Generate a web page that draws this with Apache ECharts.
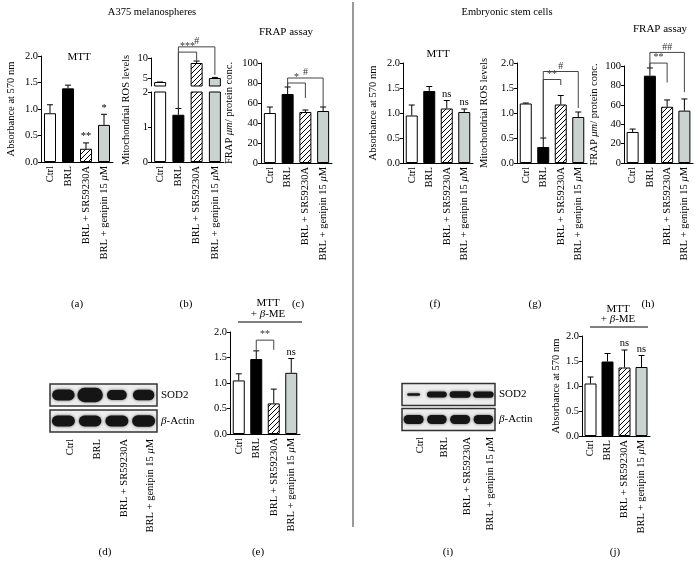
<!DOCTYPE html>
<html><head><meta charset="utf-8">
<script src="https://cdn.jsdelivr.net/npm/echarts@6/dist/echarts.min.js"></script>
<style>html,body{margin:0;padding:0;background:#fff}#c{width:695px;height:564px}</style>
</head><body><div id="c"></div>
<script>
const FONT = 'Liberation Serif';
const categories = ['Ctrl', 'BRL', 'BRL + SR59230A', 'BRL + genipin 15 μM'];

// (a) A375 MTT
const mttA = [0.92, 1.39, 0.25, 0.70];
const mttAErr = [0.16, 0.06, 0.11, 0.20];
const mttASig = ['', '', '**', '*'];
// (b) A375 mitochondrial ROS (broken axis)
const rosB = [4.0, 1.35, 8.75, 5.0];
const rosBErr = [0.0, 0.18, 0.5, 0.15];
const bracketsB = [[1, 2, 3.14, '***', 2.91], [1, 3, 3.29, '#', 2.49]];
// (c) A375 FRAP
const frapC = [50, 69, 51, 52];
const frapCErr = [6, 7, 2, 4];
const bracketsC = [[1, 2, 80, '*', 65], [1, 3, 85, '#', 56]];
// (f) ESC MTT
const mttF = [0.95, 1.44, 1.09, 1.02];
const mttFErr = [0.21, 0.09, 0.16, 0.06];
const mttFSig = ['', '', 'ns', 'ns'];
// (g) ESC ROS
const rosG = [1.19, 0.32, 1.17, 0.92];
const rosGErr = [0.01, 0.18, 0.18, 0.10];
const bracketsG = [[1, 2, 1.67, '**', 1.56], [1, 3, 1.83, '#', 1.10]];
// (h) ESC FRAP
const frapH = [32, 90, 58, 54];
const frapHErr = [3, 8, 7, 12];
const bracketsH = [[1, 2, 103, '**', 83], [1, 3, 114, '##', 73]];
// (e) A375 MTT + beta-ME
const mttE = [1.05, 1.47, 0.60, 1.20];
const mttEErr = [0.13, 0.16, 0.28, 0.28];
const mttESig = ['', '', '', 'ns'];
const bracketsE = [[1, 2, 1.84, '**', 1.65]];
// (j) ESC MTT + beta-ME
const mttJ = [1.05, 1.49, 1.37, 1.38];
const mttJErr = [0.13, 0.16, 0.35, 0.23];
const mttJSig = ['', '', 'ns', 'ns'];
// Western blots: [width fraction, thickness fraction]
const blotRows = ['β-Actin', 'SOD2'];
const sod2DWidth = [0.84, 0.95, 0.74, 0.8];
const sod2DThick = [0.42, 0.55, 0.38, 0.40];
const actinDWidth = [0.86, 0.84, 0.86, 0.86];
const actinDThick = [0.42, 0.42, 0.42, 0.44];
const sod2IWidth = [0.55, 0.85, 0.9, 0.88];
const sod2IThick = [0.10, 0.24, 0.26, 0.25];
const actinIWidth = [0.86, 0.84, 0.86, 0.84];
const actinIThick = [0.36, 0.36, 0.36, 0.36];

function makeHatch() {
  const c = document.createElement('canvas'); c.width = 5; c.height = 5;
  const x = c.getContext('2d');
  x.fillStyle = '#fff'; x.fillRect(0, 0, 5, 5);
  x.strokeStyle = '#000'; x.lineWidth = 1;
  x.beginPath();
  x.moveTo(0, 5); x.lineTo(5, 0);
  x.moveTo(-1, 1); x.lineTo(1, -1);
  x.moveTo(4, 6); x.lineTo(6, 4);
  x.stroke();
  return { image: c, repeat: 'repeat' };
}
const barColors = ['#ffffff', '#000000', makeHatch(), '#c9d4d0'];

const grids = [], xAxes = [], yAxes = [], series = [];
const XL = 10.5;
const italicRich = { i: { fontStyle: 'italic', fontFamily: FONT, fontSize: XL, color: '#000' } };

function xCfg(gi, show) {
  return {
    gridIndex: gi, type: 'category', data: categories, show: show,
    axisLine: { lineStyle: { color: '#000', width: 1 } },
    axisTick: { alignWithLabel: true, length: 3, lineStyle: { color: '#000' } },
    axisLabel: { rotate: 90, interval: 0, margin: 4, fontFamily: FONT, fontSize: XL, color: '#000',
      formatter: v => v.replace('μ', '{i|μ}'), rich: italicRich }
  };
}
function yCfg(gi, o) {
  return Object.assign({
    gridIndex: gi, type: 'value', splitLine: { show: false },
    axisLine: { show: true, lineStyle: { color: '#000', width: 1 } },
    axisTick: { show: true, length: 3, lineStyle: { color: '#000' } },
    axisLabel: { fontFamily: FONT, fontSize: XL, color: '#000', margin: 3 },
    nameLocation: 'middle',
    nameTextStyle: { fontFamily: FONT, fontSize: 10.5, color: '#000',
      rich: { i: { fontStyle: 'italic', fontFamily: FONT, fontSize: 10.5, color: '#000' } } }
  }, o);
}
function errSeries(gi, vals, errs, sig, filter) {
  const data = vals.map((v, i) => [i, v, errs[i]]).filter(d => !filter || filter(d));
  return {
    type: 'custom', xAxisIndex: gi, yAxisIndex: gi, z: 5, silent: true, data,
    renderItem: (params, api) => {
      const i = api.value(0), v = api.value(1), e = api.value(2);
      const p0 = api.coord([i, v]), p1 = api.coord([i, v + e]);
      const ch = [
        { type: 'line', shape: { x1: p0[0], y1: p0[1], x2: p1[0], y2: p1[1] }, style: { stroke: '#000', lineWidth: 1 } },
        { type: 'line', shape: { x1: p1[0] - 3, y1: p1[1], x2: p1[0] + 3, y2: p1[1] }, style: { stroke: '#000', lineWidth: 1 } }
      ];
      const s = sig && sig[i];
      if (s) ch.push({ type: 'text', style: { text: s, x: p1[0], y: p1[1] - 1, align: 'center', verticalAlign: 'bottom', textAlign: 'center', textVerticalAlign: 'bottom', font: '10.5px ' + FONT, fill: '#000' } });
      return { type: 'group', children: ch };
    }
  };
}
function bracketSeries(gi, vals, errs, brs) {
  return {
    type: 'custom', xAxisIndex: gi, yAxisIndex: gi, z: 6, silent: true, clip: false,
    data: brs.map(b => [b[0], b[2]]),
    renderItem: (params, api) => {
      const b = brs[params.dataIndex];
      const a = b[0], c = b[1], lvl = b[2], label = b[3], end = b[4];
      const pA = api.coord([a, lvl]), pC = api.coord([c, lvl]);
      const aEnd = api.coord([a, vals[a] + errs[a]]);
      const cEnd = api.coord([c, end]);
      return { type: 'group', children: [
        { type: 'polyline', shape: { points: [[pA[0], aEnd[1]], pA, pC, [pC[0], cEnd[1]]] }, style: { stroke: '#444', lineWidth: 1, fill: null } },
        { type: 'text', style: { text: label, x: (pA[0] + pC[0]) / 2, y: pA[1] - 0.5, align: 'center', verticalAlign: 'bottom', textAlign: 'center', textVerticalAlign: 'bottom', font: '10px ' + FONT, fill: '#333' } }
      ] };
    }
  };
}
function barSeries(gi, vals) {
  return {
    type: 'bar', xAxisIndex: gi, yAxisIndex: gi, barWidth: 12, silent: true,
    itemStyle: { borderColor: '#000', borderWidth: 1 },
    data: vals.map((v, i) => v === '-' ? '-' : ({ value: v, itemStyle: { color: barColors[i] } }))
  };
}
function addGrid(g) {
  grids.push(Object.assign({ containLabel: false, outerBoundsMode: 'none' }, g));
  return grids.length - 1;
}
function panel(p) {
  const gi = addGrid({ left: p.left, top: p.top, width: p.width, height: p.height });
  xAxes.push(xCfg(gi, true));
  yAxes.push(yCfg(gi, p.y));
  series.push(barSeries(gi, p.values));
  series.push(errSeries(gi, p.values, p.err, p.sig));
  if (p.brackets) series.push(bracketSeries(gi, p.values, p.err, p.brackets));
}
const f1 = v => v.toFixed(1);
const yl1 = { formatter: f1, fontFamily: FONT, fontSize: XL, color: '#000', margin: 3 };

// (a)
panel({ left: 41, top: 56, width: 72, height: 106, values: mttA, err: mttAErr, sig: mttASig,
  y: { min: 0, max: 2, interval: 0.5, axisLabel: yl1, name: 'Absorbance at 570 nm', nameGap: 24 } });
// (b) lower + upper segment of the broken axis
{
  const gl = addGrid({ left: 151, top: 92, width: 73, height: 70 });
  xAxes.push(xCfg(gl, true));
  yAxes.push(yCfg(gl, { min: 0, max: 2, interval: 1 }));
  series.push(barSeries(gl, rosB));
  series.push(errSeries(gl, rosB, rosBErr, null, d => d[1] + d[2] <= 2));
  series.push(bracketSeries(gl, rosB, rosBErr, bracketsB));
  const gu = addGrid({ left: 151, top: 58, width: 73, height: 28 });
  xAxes.push(xCfg(gu, false));
  yAxes.push(yCfg(gu, { min: 3, max: 10, axisLabel: { customValues: [5, 10], fontFamily: FONT, fontSize: XL, color: '#000', margin: 3 }, axisTick: { show: true, length: 3, customValues: [5, 10], lineStyle: { color: '#000' } } }));
  series.push(barSeries(gu, rosB.map(v => v > 3 ? v : '-')));
  series.push(errSeries(gu, rosB, rosBErr, null, d => d[1] > 3));
}
// (c)
panel({ left: 261, top: 63, width: 71, height: 100, values: frapC, err: frapCErr, brackets: bracketsC,
  y: { min: 0, max: 100, interval: 20, name: 'FRAP {i|μm}/ protein conc.', nameGap: 26 } });
// (f)
panel({ left: 403, top: 63, width: 70, height: 100, values: mttF, err: mttFErr, sig: mttFSig,
  y: { min: 0, max: 2, interval: 0.5, axisLabel: yl1, name: 'Absorbance at 570 nm', nameGap: 24 } });
// (g)
panel({ left: 517, top: 63, width: 70, height: 100, values: rosG, err: rosGErr, brackets: bracketsG,
  y: { min: 0, max: 2, interval: 0.5, axisLabel: yl1, name: 'Mitochondrial ROS levels', nameGap: 27 } });
// (h)
panel({ left: 624, top: 66, width: 69, height: 97, values: frapH, err: frapHErr, brackets: bracketsH,
  y: { min: 0, max: 100, interval: 20, name: 'FRAP {i|μm}/ protein conc.', nameGap: 24 } });
// (e)
panel({ left: 230, top: 332, width: 70, height: 102, values: mttE, err: mttEErr, sig: mttESig, brackets: bracketsE,
  y: { min: 0, max: 2, interval: 0.5, axisLabel: yl1 } });
// (j)
panel({ left: 582, top: 336, width: 68, height: 100, values: mttJ, err: mttJErr, sig: mttJSig,
  y: { min: 0, max: 2, interval: 0.5, axisLabel: yl1, name: 'Absorbance at 570 nm', nameGap: 20 } });

// Western blots
function blot(left, top, width, height, sodW, sodT, actW, actT) {
  const gi = addGrid({ left, top, width, height });
  xAxes.push({ gridIndex: gi, type: 'category', data: categories,
    axisLine: { show: false }, axisTick: { show: false },
    axisLabel: { rotate: 90, interval: 0, margin: 5, fontFamily: FONT, fontSize: XL, color: '#000',
      padding: [14, 0, 0, 0],
      formatter: v => v.replace('μ', '{i|μ}'), rich: italicRich } });
  yAxes.push({ gridIndex: gi, type: 'category', data: blotRows, position: 'right',
    axisLine: { show: false }, axisTick: { show: false }, splitLine: { show: false },
    axisLabel: { margin: 4, fontFamily: FONT, fontSize: 11, color: '#000',
      formatter: v => v.replace('β', '{i|β}'), rich: { i: { fontStyle: 'italic', fontFamily: FONT, fontSize: 11, color: '#000' } } } });
  series.push({ type: 'custom', xAxisIndex: gi, yAxisIndex: gi, z: 2, silent: true,
    data: [[0, 0], [0, 1]],
    renderItem: (params, api) => {
      const c = api.coord([0, api.value(1)]);
      const cs = params.coordSys;
      return { type: 'rect', shape: { x: cs.x, y: c[1] - 11, width: cs.width, height: 22 },
        style: { fill: '#ededed', stroke: '#333', lineWidth: 1.5 } };
    } });
  const bands = [];
  sodW.forEach((w, i) => bands.push([i, 1, w, sodT[i]]));
  actW.forEach((w, i) => bands.push([i, 0, w, actT[i]]));
  series.push({ type: 'custom', xAxisIndex: gi, yAxisIndex: gi, z: 3, silent: true, data: bands,
    renderItem: (params, api) => {
      const c = api.coord([api.value(0), api.value(1)]);
      const s = api.size([1, 1]);
      const bw = s[0] * api.value(2), bh = s[1] * api.value(3);
      return { type: 'rect', shape: { x: c[0] - bw / 2, y: c[1] - bh / 2, width: bw, height: bh, r: bh / 2 },
        style: { fill: '#151515', shadowBlur: 3, shadowColor: 'rgba(0,0,0,0.6)' } };
    } });
}
blot(50, 382, 107, 52, sod2DWidth, sod2DThick, actinDWidth, actinDThick);
blot(402, 382, 93, 50, sod2IWidth, sod2IThick, actinIWidth, actinIThick);

function txt(t, x, y, size, extra) {
  return Object.assign({ type: 'text', x, y, silent: true,
    style: { text: t, textAlign: 'center', textVerticalAlign: 'middle', align: 'center', verticalAlign: 'middle',
      font: size + 'px ' + FONT, fill: '#000' } }, extra || {});
}
function meTitle(x, y) {
  return { type: 'text', x, y, silent: true, style: { text: '{n|+ }{i|β}{n|-ME}', textAlign: 'center', textVerticalAlign: 'middle', align: 'center', verticalAlign: 'middle', font: '11px ' + FONT, fill: '#000',
    rich: { n: { fontFamily: FONT, fontSize: 11 }, i: { fontFamily: FONT, fontSize: 11, fontStyle: 'italic' } } } };
}
const graphics = [
  txt('A375 melanospheres', 152, 12, 10.5),
  txt('Embryonic stem cells', 507, 12, 10.5),
  txt('MTT', 79, 57, 11),
  txt('FRAP assay', 286, 32, 11),
  txt('MTT', 438, 54, 11),
  txt('FRAP assay', 660, 29, 11),
  txt('MTT', 268, 303, 11),
  meTitle(268, 314),
  { type: 'line', silent: true, shape: { x1: 238, y1: 322, x2: 302, y2: 322 }, style: { stroke: '#000', lineWidth: 1 } },
  txt('MTT', 618, 309, 11),
  meTitle(618, 319),
  { type: 'line', silent: true, shape: { x1: 590, y1: 327, x2: 648, y2: 327 }, style: { stroke: '#000', lineWidth: 1 } },
  txt('Mitochondrial ROS levels', 126, 110, 10.5, { rotation: Math.PI / 2 }),
  { type: 'line', silent: true, shape: { x1: 353, y1: 2, x2: 353, y2: 527 }, style: { stroke: '#777', lineWidth: 1.5 } },
  txt('(a)', 77, 304, 11), txt('(b)', 186, 304, 11), txt('(c)', 298, 304, 11),
  txt('(f)', 435, 304, 11), txt('(g)', 535, 304, 11), txt('(h)', 648, 304, 11),
  txt('(d)', 105, 552, 11), txt('(e)', 258, 552, 11), txt('(i)', 448, 552, 11), txt('(j)', 615, 552, 11)
];

const chart = echarts.init(document.getElementById('c'), null, { renderer: 'canvas' });
chart.setOption({
  animation: false,
  backgroundColor: '#fff',
  textStyle: { fontFamily: FONT },
  grid: grids, xAxis: xAxes, yAxis: yAxes, series: series,
  graphic: { elements: graphics }
});
</script>
</body></html>
